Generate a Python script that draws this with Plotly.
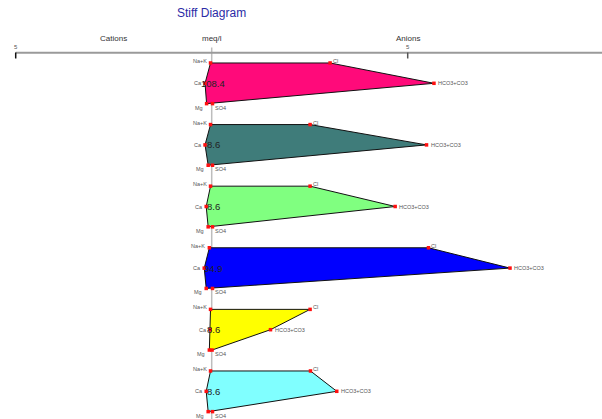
import plotly.graph_objects as go

# Ion concentrations in meq/l for each sample (cations plotted left, anions right)
sample_labels = ["108.4", "8.6", "8.6", "94.9", "8.6", "8.6"]
na_k = [0.03, 0.03, 0.03, 0.06, 0.03, 0.03]
ca = [0.17, 0.17, 0.14, 0.19, 0.04, 0.14]
mg = [0.13, 0.09, 0.09, 0.14, 0.06, 0.09]
cl = [3.02, 2.51, 2.51, 5.53, 2.51, 2.52]
hco3_co3 = [5.67, 5.48, 4.68, 7.61, 1.50, 3.19]
so4 = [0.02, 0.02, 0.02, 0.02, 0.01, 0.02]
fill_colors = ["#FF0A7A", "#3F7C7A", "#80FF80", "#0000FF", "#FFFF00", "#80FFFF"]

scale_ticks = [-5, 5]
scale_tick_text = ["5", "5"]

W, H = 602, 419
CENTER_PX = 211.7      # pixel position of 0 meq/l
PX_PER_MEQ = 39.2
FIRST_ROW_PX = 83.3    # pixel y of the first sample's middle row
ROW_PX = 61.6          # distance between samples
HALF = 0.33            # half height of a polygon in row units

x_min = -CENTER_PX / PX_PER_MEQ
x_max = (W - CENTER_PX) / PX_PER_MEQ
y_top = -FIRST_ROW_PX / ROW_PX
y_bot = (H - FIRST_ROW_PX) / ROW_PX


def paper_y(px):
    return 1 - px / H


FONT = "Liberation Sans, Arial, sans-serif"
fig = go.Figure()
annotations = []

for i, lbl in enumerate(sample_labels):
    xs = [-na_k[i], cl[i], hco3_co3[i], so4[i], -mg[i], -ca[i], -na_k[i]]
    ys = [i - HALF, i - HALF, i, i + HALF, i + HALF, i, i - HALF]
    fig.add_trace(go.Scatter(
        x=xs, y=ys, mode="lines", fill="toself",
        fillcolor=fill_colors[i], line=dict(color="#111111", width=1),
        hoverinfo="skip", showlegend=False,
    ))
    fig.add_trace(go.Scatter(
        x=xs[:-1], y=ys[:-1], mode="markers",
        marker=dict(color="#FF1010", size=3.5, symbol="square"),
        hoverinfo="skip", showlegend=False,
    ))
    small = dict(size=5.5, color="#555555", family=FONT)
    annotations += [
        dict(x=-na_k[i], y=i - HALF, text="Na+K", xanchor="right", yanchor="middle",
             xshift=-2, yshift=2, showarrow=False, font=small),
        dict(x=-ca[i], y=i, text="Ca", xanchor="right", yanchor="middle",
             xshift=-1, showarrow=False, font=small),
        dict(x=-mg[i], y=i + HALF, text="Mg", xanchor="right", yanchor="middle",
             xshift=-2, yshift=-4, showarrow=False, font=small),
        dict(x=cl[i], y=i - HALF, text="Cl", xanchor="left", yanchor="middle",
             xshift=1, yshift=2, showarrow=False, font=small),
        dict(x=hco3_co3[i], y=i, text="HCO3+CO3", xanchor="left", yanchor="middle",
             xshift=2, showarrow=False, font=small),
        dict(x=so4[i], y=i + HALF, text="SO4", xanchor="left", yanchor="middle",
             xshift=1, yshift=-4, showarrow=False, font=small),
        dict(x=0.04, y=i, text=lbl, xanchor="center", yanchor="middle",
             showarrow=False, font=dict(size=9.5, color="#222222", family=FONT)),
    ]

shapes = [
    # centre line (0 meq/l)
    dict(type="line", xref="x", yref="paper", x0=0, x1=0,
         y0=paper_y(47.5), y1=0, line=dict(color="#BDBDBD", width=1.5), layer="below"),
    # concentration scale line
    dict(type="line", xref="x", yref="paper", x0=scale_ticks[0], x1=x_max,
         y0=paper_y(52.7), y1=paper_y(52.7), line=dict(color="#9A9A9A", width=2)),
]
for t, c in zip(scale_ticks, ["#111111", "#555555"]):
    shapes.append(dict(type="line", xref="x", yref="paper", x0=t, x1=t,
                       y0=paper_y(52.5), y1=paper_y(58.5), line=dict(color=c, width=1.5)))
for t, s in zip(scale_ticks, scale_tick_text):
    annotations.append(dict(x=t, y=paper_y(47.5), xref="x", yref="paper", text=s,
                            showarrow=False, xanchor="center", yanchor="middle",
                            font=dict(size=6, color="#555555", family=FONT)))

head = dict(size=8, color="#333333", family=FONT)
annotations += [
    dict(x=-2.5, y=paper_y(38), xref="x", yref="paper", text="Cations", showarrow=False,
         xanchor="center", yanchor="middle", font=head),
    dict(x=0, y=paper_y(38), xref="x", yref="paper", text="meq/l", showarrow=False,
         xanchor="center", yanchor="middle", font=head),
    dict(x=5, y=paper_y(38), xref="x", yref="paper", text="Anions", showarrow=False,
         xanchor="center", yanchor="middle", font=head),
    dict(x=0, y=paper_y(13), xref="x", yref="paper", text="Stiff Diagram", showarrow=False,
         xanchor="center", yanchor="middle",
         font=dict(size=12, color="#2B2BA6", family=FONT)),
]

fig.update_layout(
    width=W, height=H,
    margin=dict(l=0, r=0, t=0, b=0),
    paper_bgcolor="white", plot_bgcolor="white",
    xaxis=dict(range=[x_min, x_max], visible=False, fixedrange=True),
    yaxis=dict(range=[y_bot, y_top], visible=False, fixedrange=True),
    shapes=shapes, annotations=annotations,
    showlegend=False,
)

fig.write_html("out.html")
